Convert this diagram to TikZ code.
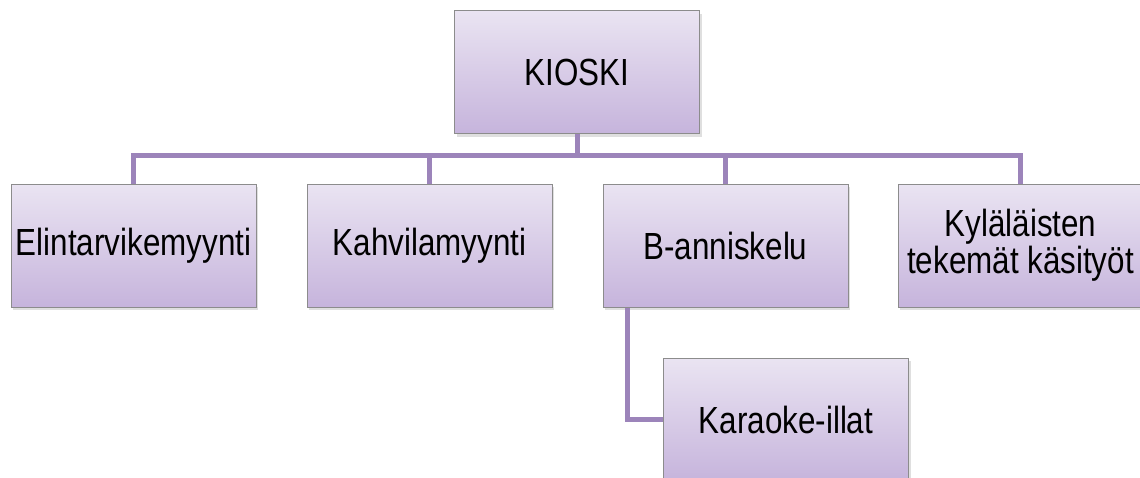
\documentclass[tikz,border=0pt]{standalone}
\usepackage{fontspec}
\setmainfont{Liberation Sans}[FakeStretch=0.83]
\usetikzlibrary{shadows}

\definecolor{boxtop}{RGB}{234,228,242}
\definecolor{boxbottom}{RGB}{198,180,220}
\definecolor{linkcol}{RGB}{156,132,186}

\begin{document}
\begin{tikzpicture}[x=0.5pt,y=-0.5pt]

\tikzstyle{mybox}=[
  rectangle,
  draw=black!45,
  line width=0.5pt,
  top color=boxtop,
  bottom color=boxbottom,
  drop shadow={opacity=0.25, shadow xshift=1pt, shadow yshift=-1.5pt},
  minimum width=122.5pt,
  minimum height=61.5pt,
  inner sep=1pt,
  align=center,
  font=\fontsize{18.9}{17.5}\selectfont]

\tikzstyle{myline}=[linkcol, line width=2.5pt]

\useasboundingbox (0,0) rectangle (1140,477);

% define points
\path
  (577,72) coordinate(R)
  (0,155) coordinate(bar)
  ;

\node[mybox] (T) at (R) {KIOSKI};

\node[mybox] (E) at (133.5,245.5) {Elintarvikemyynti};
\node[mybox] (K) at (429.5,245.5) {Kahvilamyynti};
\node[mybox] (B) at (725.5,245.5) {B-anniskelu};
\node[mybox] (Ky) at (1020.5,245.5) {Kyläläisten\\tekemät käsityöt};

\node[mybox] (Ka) at (786,419.5) {Karaoke-illat};

% draw lines
\draw[myline] (T.south) -- (T.south |- bar) -| (E.north);
\draw[myline] (T.south) -- (T.south |- bar) -| (K.north);
\draw[myline] (T.south) -- (T.south |- bar) -| (B.north);
\draw[myline] (T.south) -- (T.south |- bar) -| (Ky.north);
\draw[myline] ([xshift=12.5pt]B.south west) |- (Ka.west);

\end{tikzpicture}
\end{document}
